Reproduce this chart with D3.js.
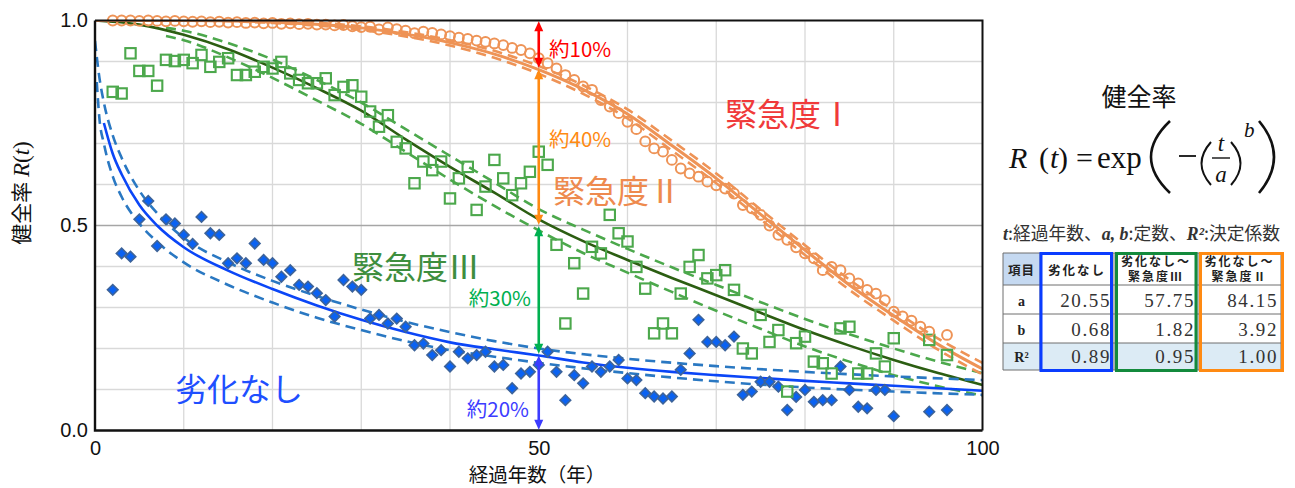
<!DOCTYPE html>
<html>
<head>
<meta charset="utf-8">
<script src="https://cdn.jsdelivr.net/npm/d3@7"></script>
<style>
body { margin: 0; background: #fff; }
svg { display: block; }
</style>
</head>
<body>
<svg id="chart"></svg>
<script>
// ---- data ----
// fitted curves (健全率), sampled from the drawn lines
const orangeFitT = [0, 10, 20, 30, 40, 45, 50, 55, 60, 65, 70, 75, 80, 85, 90, 95, 100];
const orangeFitR = [1.0, 1.0, 0.996, 0.982, 0.946, 0.918, 0.88, 0.832, 0.772, 0.695, 0.615, 0.527, 0.44, 0.355, 0.28, 0.21, 0.15];
const orangeHiR = [1.0, 1.0, 0.998, 0.986, 0.952, 0.926, 0.889, 0.842, 0.783, 0.707, 0.627, 0.539, 0.452, 0.368, 0.293, 0.224, 0.165];
const orangeLoR = [1.0, 1.0, 0.994, 0.977, 0.939, 0.909, 0.87, 0.821, 0.761, 0.683, 0.603, 0.515, 0.428, 0.343, 0.268, 0.197, 0.137];

const greenFitT = [0, 5, 10, 15, 20, 25, 30, 35, 40, 45, 50, 55, 60, 65, 70, 75, 80, 85, 90, 95, 100];
const greenFitR = [1.0, 0.99, 0.965, 0.93, 0.885, 0.835, 0.78, 0.71, 0.643, 0.58, 0.515, 0.462, 0.416, 0.372, 0.33, 0.287, 0.245, 0.207, 0.172, 0.14, 0.111];
const greenBandT = [8, 10, 15, 20, 25, 30, 35, 40, 45, 50, 55, 60, 65, 70, 75, 80, 85, 90, 95, 100];
const greenHiR = [0.982, 0.975, 0.945, 0.905, 0.855, 0.80, 0.735, 0.67, 0.605, 0.54, 0.49, 0.443, 0.398, 0.355, 0.313, 0.272, 0.235, 0.2, 0.168, 0.14];
const greenLoR = [0.962, 0.952, 0.91, 0.86, 0.805, 0.748, 0.68, 0.612, 0.548, 0.488, 0.433, 0.385, 0.338, 0.292, 0.248, 0.205, 0.168, 0.135, 0.108, 0.085];

const blueFitT = [1, 2, 3, 5, 7, 10, 15, 20, 25, 30, 35, 40, 45, 50, 55, 60, 65, 70, 75, 80, 85, 90, 95, 100];
const blueFitR = [0.75, 0.675, 0.625, 0.55, 0.50, 0.447, 0.39, 0.345, 0.305, 0.27, 0.24, 0.215, 0.198, 0.183, 0.166, 0.153, 0.143, 0.135, 0.128, 0.121, 0.115, 0.109, 0.103, 0.097];
const blueHiT = [0, 0.5, 1, 2, 3, 5, 7, 10, 15, 20, 25, 30, 35, 40, 45, 50, 60, 70, 80, 90, 100];
const blueHiR = [0.95, 0.86, 0.80, 0.72, 0.665, 0.585, 0.53, 0.47, 0.41, 0.365, 0.328, 0.295, 0.265, 0.24, 0.218, 0.2, 0.175, 0.157, 0.143, 0.132, 0.123];
const blueLoT = [0.2, 0.5, 1, 2, 3, 5, 7, 10, 15, 20, 25, 30, 35, 40, 45, 50, 60, 70, 80, 90, 100];
const blueLoR = [0.85, 0.76, 0.70, 0.62, 0.57, 0.505, 0.46, 0.41, 0.355, 0.312, 0.275, 0.245, 0.218, 0.196, 0.18, 0.165, 0.14, 0.12, 0.105, 0.095, 0.087];

// observed points
const circleT = [2,3,4,5,6,7,8,9,10,11,12,13,14,15,16,17,18,19,20,21,22,23,24,25,26,27,28,29,30,31,32,33,34,35,36,37,38,39,40,41,42,43,44,45,46,47,48,49,50,51,52,53,54,55,56,57,58,59,60,61,62,63,64,65,66,67,68,69,70,71,72,73,74,75,76,77,78,79,80,81,82,83,84,85,86,87,88,89,90,91,92,93,94,96];
const circleR = [1.0,1.0,1.0,0.999,1.0,0.999,0.998,0.999,0.998,
  0.997,0.998,0.996,0.997,0.995,0.996,0.994,0.995,0.993,0.994,
  0.992,0.993,0.991,0.992,0.99,0.99,0.988,0.989,0.986,0.984,
  0.985,0.978,0.983,0.979,0.975,0.969,0.973,0.97,0.966,0.962,
  0.958,0.955,0.951,0.948,0.944,0.94,0.933,0.928,0.92,0.908,
  0.896,0.883,0.867,0.855,0.839,0.831,0.806,0.79,0.774,0.753,
  0.735,0.705,0.688,0.68,0.66,0.639,0.627,0.619,0.607,0.598,
  0.59,0.578,0.55,0.542,0.526,0.5,0.477,0.465,0.447,0.432,
  0.42,0.391,0.399,0.391,0.371,0.359,0.343,0.334,0.318,0.29,
  0.278,0.268,0.253,0.241,0.233];

const squareT = [2,3,4,5,6,7,8,9,10,11,12,13,14,15,16,17,18,19,20,21,22,23,24,25,26,27,28,29,30,31,32,33,34,35,36,37,38,39,40,41,42,43,44,45,46,47,48,49,50,51,52,53,54,55,56,57,58,59,60,61,62,63,64,65,66,67,68,69,70,71,72,73,74,75,76,77,78,79,80,81,82,83,84,85,86,87,88,89,90,94,96];
const squareR = [0.826,0.822,0.92,0.877,0.877,0.841,0.904,0.901,0.904,
  0.896,0.916,0.887,0.899,0.908,0.867,0.867,0.875,0.887,0.883,
  0.899,0.871,0.855,0.847,0.847,0.859,0.818,0.838,0.842,0.814,
  0.778,0.741,0.769,0.704,0.688,0.603,0.656,0.635,0.656,0.566,
  0.615,0.643,0.538,0.595,0.66,0.615,0.574,0.603,0.631,0.68,
  0.648,0.453,0.261,0.408,0.334,0.448,0.432,0.526,0.481,0.461,
  0.399,0.346,0.237,0.261,0.237,0.334,0.399,0.428,0.371,0.379,
  0.391,0.343,0.2,0.188,0.282,0.216,0.245,0.095,0.213,0.229,
  0.168,0.164,0.139,0.249,0.253,0.139,0.139,0.188,0.156,0.225,
  0.221,0.184];

const diamondT = [2,3,4,5,6,7,8,9,10,11,12,13,14,15,16,17,18,19,20,21,22,23,24,25,26,27,28,29,30,31,32,33,34,35,36,37,38,39,40,41,42,43,44,45,46,47,48,49,50,51,52,53,54,55,56,57,58,59,60,61,62,63,64,65,66,67,68,69,70,71,72,73,74,75,76,77,78,79,80,81,82,83,84,85,86,87,88,89,90,94,96];
const diamondR = [0.343,0.432,0.424,0.515,0.56,0.45,0.515,0.505,0.477,
  0.455,0.521,0.481,0.477,0.408,0.42,0.408,0.456,0.416,0.408,
  0.375,0.391,0.355,0.351,0.335,0.318,0.278,0.367,0.351,0.343,
  0.273,0.282,0.261,0.273,0.253,0.208,0.212,0.184,0.196,0.156,
  0.192,0.176,0.184,0.192,0.156,0.16,0.103,0.139,0.143,0.16,
  0.192,0.143,0.074,0.135,0.115,0.156,0.143,0.156,0.172,0.127,
  0.123,0.091,0.083,0.078,0.083,0.148,0.188,0.27,0.216,0.216,
  0.208,0.229,0.087,0.095,0.119,0.119,0.107,0.05,0.082,0.099,
  0.07,0.074,0.074,0.156,0.099,0.058,0.054,0.099,0.099,0.035,
  0.046,0.05];

// axes
const xTicks = [0, 50, 100];
const yTicks = [0, 0.5, 1.0];
const xGrid = [10, 20, 30, 40, 50, 60, 70, 80, 90];
const yGrid = [0.1, 0.2, 0.3, 0.4, 0.5, 0.6, 0.7, 0.8, 0.9];

// the arrows at t = 50 and their labels
const arrowStops = [1.0, 0.883, 0.5, 0.185, 0.0];
const arrowLabels = ["約10%", "約40%", "約30%", "約20%"];
const arrowColors = ["#ff0000", "#ff8a12", "#00b050", "#3c3cff"];

// parameter table
const tableHead = [["項目"], ["劣化なし"], ["劣化なし～", "緊急度Ⅲ"], ["劣化なし～", "緊急度Ⅱ"]];
const rowNames = ["a", "b", "R²"];
const paramA = [20.55, 57.75, 84.15];
const paramB = [0.68, 1.82, 3.92];
const paramR2 = [0.89, 0.95, 1.00];

// ---- drawing ----
const W = 1295, H = 488;
const jpFont = "'Noto Sans CJK JP', 'Noto Sans', sans-serif";
const numFont = "'Liberation Sans', Arial, sans-serif";
const mathFont = "'Liberation Serif', 'DejaVu Serif', serif";

const colOrange = "#ee9356";
const colGreen = "#4ca84c";
const colGreenDark = "#2c5e12";
const colBlue = "#0b46f7";
const colBlueDash = "#2a78c2";

const svg = d3.select('#chart').attr('width', W).attr('height', H);
svg.append('rect').attr('width', W).attr('height', H).attr('fill', '#fff');

const x = d3.scaleLinear().domain([0, 100]).range([95, 982.5]);
const y = d3.scaleLinear().domain([0, 1]).range([430.5, 20.5]);

// grid
svg.append('g').selectAll('line').data(xGrid).join('line')
  .attr('x1', d => x(d)).attr('x2', d => x(d))
  .attr('y1', y(0)).attr('y2', y(1))
  .attr('stroke', '#d9d9d9').attr('stroke-width', 1.3);
svg.append('g').selectAll('line').data(yGrid).join('line')
  .attr('x1', x(0)).attr('x2', x(100))
  .attr('y1', d => y(d)).attr('y2', d => y(d))
  .attr('stroke', d => d === 0.5 ? '#a6a6a6' : '#d9d9d9')
  .attr('stroke-width', 1.3);

svg.append('clipPath').attr('id', 'plotClip')
  .append('rect').attr('x', x(0)).attr('y', y(1)).attr('width', x(100) - x(0)).attr('height', y(0) - y(1));

const zip = (ts, rs) => ts.map((t, i) => [t, rs[i]]);
const line = d3.line().x(d => x(d[0])).y(d => y(d[1])).curve(d3.curveMonotoneX);

const curves = svg.append('g').attr('clip-path', 'url(#plotClip)');
function drawCurve(pts, color, width, dash) {
  curves.append('path')
    .attr('d', line(pts))
    .attr('fill', 'none')
    .attr('stroke', color)
    .attr('stroke-width', width)
    .attr('stroke-dasharray', dash || null);
}

drawCurve(zip(greenBandT, greenHiR), colGreen, 2.6, '10,6');
drawCurve(zip(greenBandT, greenLoR), colGreen, 2.6, '10,6');
drawCurve(zip(greenFitT, greenFitR), colGreenDark, 2.6);
drawCurve(zip(blueHiT, blueHiR), colBlueDash, 2.6, '10,6');
drawCurve(zip(blueLoT, blueLoR), colBlueDash, 2.6, '10,6');
drawCurve(zip(blueFitT, blueFitR), colBlue, 2.6);
drawCurve(zip(orangeFitT, orangeHiR), colOrange, 2.6, '10,6');
drawCurve(zip(orangeFitT, orangeLoR), colOrange, 2.6, '10,6');
drawCurve(zip(orangeFitT, orangeFitR), colOrange, 3);

// points
svg.append('g').selectAll('path').data(zip(diamondT, diamondR)).join('path')
  .attr('d', d3.symbol(d3.symbolSquare, 56)())
  .attr('transform', d => `translate(${x(d[0])},${y(d[1])}) rotate(45)`)
  .attr('fill', '#0a62f2')
  .attr('stroke', '#3d6399')
  .attr('stroke-width', 1.6);

svg.append('g').selectAll('rect').data(zip(squareT, squareR)).join('rect')
  .attr('x', d => x(d[0]) - 5.2).attr('y', d => y(d[1]) - 5.2)
  .attr('width', 10.4).attr('height', 10.4)
  .attr('fill', 'none')
  .attr('stroke', colGreen)
  .attr('stroke-width', 2.1);

svg.append('g').selectAll('circle').data(zip(circleT, circleR)).join('circle')
  .attr('cx', d => x(d[0])).attr('cy', d => y(d[1]))
  .attr('r', 4.9)
  .attr('fill', 'none')
  .attr('stroke', colOrange)
  .attr('stroke-width', 2);

// frame
const frame = svg.append('g').attr('stroke', '#111').attr('fill', 'none');
frame.append('path').attr('d', `M${x(0)},${y(1)}H${x(100)}V${y(0)}`).attr('stroke-width', 2);
frame.append('path').attr('d', `M${x(0)},${y(1)}V${y(0)}H${x(100)}`).attr('stroke-width', 2.4);

// axes
const yAxis = svg.append('g').attr('transform', `translate(${x(0)},0)`)
  .call(d3.axisLeft(y).tickValues(yTicks).tickFormat(d3.format('.1f')).tickSize(0).tickPadding(7));
yAxis.select('.domain').remove();
yAxis.selectAll('text').attr('font-size', 20).attr('font-family', numFont).attr('fill', '#111');

const xAxis = svg.append('g').attr('transform', `translate(0,${y(0)})`)
  .call(d3.axisBottom(x).tickValues(xTicks).tickFormat(d3.format('d')).tickSize(0).tickPadding(10.5));
xAxis.select('.domain').remove();
xAxis.selectAll('text').attr('font-size', 20).attr('font-family', numFont).attr('fill', '#111');

svg.append('text')
  .attr('x', 537).attr('y', 482)
  .attr('text-anchor', 'middle')
  .attr('font-family', jpFont).attr('font-size', 19.5).attr('fill', '#111')
  .text('経過年数（年）');

const yl = svg.append('text')
  .attr('transform', 'translate(29,193) rotate(-90)')
  .attr('text-anchor', 'middle')
  .attr('font-family', jpFont).attr('font-size', 21).attr('fill', '#111');
yl.append('tspan').text('健全率 ');
yl.append('tspan').attr('font-family', mathFont).attr('font-style', 'italic').attr('font-size', 23).text('R');
yl.append('tspan').attr('font-family', mathFont).attr('font-size', 23).text('(');
yl.append('tspan').attr('font-family', mathFont).attr('font-style', 'italic').attr('font-size', 23).text('t');
yl.append('tspan').attr('font-family', mathFont).attr('font-size', 23).text(')');

// arrows at t = 50
const ax = x(50);
const arrows = svg.append('g');
function drawArrow(r1, r2, color) {
  const y1 = y(r1) + 0.8, y2 = y(r2) - 0.8;
  arrows.append('line').attr('x1', ax).attr('x2', ax)
    .attr('y1', y1 + 8).attr('y2', y2 - 8)
    .attr('stroke', color).attr('stroke-width', 2.6);
  arrows.append('path')
    .attr('d', `M${ax},${y1}L${ax - 4.5},${y1 + 10}L${ax + 4.5},${y1 + 10}Z`)
    .attr('fill', color);
  arrows.append('path')
    .attr('d', `M${ax},${y2}L${ax - 4.5},${y2 - 10}L${ax + 4.5},${y2 - 10}Z`)
    .attr('fill', color);
}
arrowColors.forEach((c, i) => drawArrow(arrowStops[i], arrowStops[i + 1], c));

const labelPos = [
  { x: 549, y: 57, anchor: 'start' },
  { x: 549, y: 147, anchor: 'start' },
  { x: 531, y: 306, anchor: 'end' },
  { x: 529, y: 417, anchor: 'end' }
];
svg.append('g').selectAll('text').data(arrowLabels).join('text')
  .attr('x', (d, i) => labelPos[i].x).attr('y', (d, i) => labelPos[i].y)
  .attr('text-anchor', (d, i) => labelPos[i].anchor)
  .attr('font-family', jpFont).attr('font-size', 20.5)
  .attr('fill', (d, i) => arrowColors[i])
  .text(d => d);

// category labels
const catLabels = [
  { text: '緊急度Ⅰ', x: 725, y: 126, color: '#f03a3a' },
  { text: '緊急度Ⅱ', x: 553, y: 203, color: '#ee8a4e' },
  { text: '緊急度Ⅲ', x: 352, y: 279, color: '#3e8e3e' },
  { text: '劣化なし', x: 175, y: 401, color: '#1f4fff' }
];
svg.append('g').selectAll('text').data(catLabels).join('text')
  .attr('x', d => d.x).attr('y', d => d.y)
  .attr('font-family', jpFont).attr('font-size', 32)
  .attr('fill', d => d.color)
  .text(d => d.text);

// ---- formula ----
const fm = svg.append('g').attr('font-family', mathFont).attr('fill', '#111');
fm.append('text').attr('x', 1139).attr('y', 106).attr('text-anchor', 'middle')
  .attr('font-family', jpFont).attr('font-size', 25).text('健全率');
fm.append('text').attr('x', 1009).attr('y', 168).attr('font-size', 30).attr('font-style', 'italic').text('R');
fm.append('text').attr('x', 1039).attr('y', 168).attr('font-size', 30).text('(');
fm.append('text').attr('x', 1050).attr('y', 168).attr('font-size', 30).attr('font-style', 'italic').text('t');
fm.append('text').attr('x', 1058).attr('y', 168).attr('font-size', 30).text(')');
fm.append('text').attr('x', 1076).attr('y', 168).attr('font-size', 30).text('=');
fm.append('text').attr('x', 1097).attr('y', 168).attr('font-size', 31).text('exp');
const parenPath = (xa, xb, y1, y2) => `M${xa},${y1}Q${xb},${(y1 + y2) / 2} ${xa},${y2}`;
fm.append('path').attr('d', parenPath(1170, 1132, 121, 193)).attr('fill', 'none').attr('stroke', '#111').attr('stroke-width', 2.6);
fm.append('path').attr('d', parenPath(1259, 1289, 121, 193)).attr('fill', 'none').attr('stroke', '#111').attr('stroke-width', 2.6);
fm.append('line').attr('x1', 1179).attr('x2', 1196).attr('y1', 156).attr('y2', 156).attr('stroke', '#111').attr('stroke-width', 1.8);
fm.append('path').attr('d', parenPath(1211, 1192, 142, 185)).attr('fill', 'none').attr('stroke', '#111').attr('stroke-width', 2);
fm.append('path').attr('d', parenPath(1231, 1250, 142, 185)).attr('fill', 'none').attr('stroke', '#111').attr('stroke-width', 2);
fm.append('text').attr('x', 1221).attr('y', 151).attr('text-anchor', 'middle').attr('font-size', 23).attr('font-style', 'italic').text('t');
fm.append('line').attr('x1', 1212).attr('x2', 1230).attr('y1', 158).attr('y2', 158).attr('stroke', '#111').attr('stroke-width', 1.4);
fm.append('text').attr('x', 1221).attr('y', 182).attr('text-anchor', 'middle').attr('font-size', 23).attr('font-style', 'italic').text('a');
fm.append('text').attr('x', 1244).attr('y', 137).attr('font-size', 21).attr('font-style', 'italic').text('b');

// note line
const note = svg.append('text').attr('x', 1003).attr('y', 240)
  .attr('font-family', jpFont).attr('font-size', 17.8).attr('fill', '#333');
note.append('tspan').attr('font-family', mathFont).attr('font-style', 'italic').attr('font-weight', 'bold').text('t');
note.append('tspan').text(':経過年数、');
note.append('tspan').attr('font-family', mathFont).attr('font-style', 'italic').attr('font-weight', 'bold').text('a, b');
note.append('tspan').text(':定数、');
note.append('tspan').attr('font-family', mathFont).attr('font-style', 'italic').attr('font-weight', 'bold').text('R²');
note.append('tspan').text(':決定係数');

// ---- table ----
const colX = [1003, 1040, 1114, 1198, 1281];
const rowY = [253, 285, 314, 343, 370];
const tbl = svg.append('g');
const rowVals = [paramA, paramB, paramR2];

// backgrounds
tbl.append('rect').attr('x', colX[0]).attr('y', rowY[0]).attr('width', colX[1] - colX[0]).attr('height', rowY[1] - rowY[0]).attr('fill', '#c5d9f1');
tbl.append('rect').attr('x', colX[0]).attr('y', rowY[3]).attr('width', colX[4] - colX[0]).attr('height', rowY[4] - rowY[3]).attr('fill', '#dcebf5');

// cell lines
tbl.selectAll('line.h').data(rowY).join('line').attr('class', 'h')
  .attr('x1', colX[0]).attr('x2', colX[4]).attr('y1', d => d).attr('y2', d => d)
  .attr('stroke', '#6e6e6e').attr('stroke-width', 1);
tbl.selectAll('line.v').data(colX).join('line').attr('class', 'v')
  .attr('x1', d => d).attr('x2', d => d).attr('y1', rowY[0]).attr('y2', rowY[4])
  .attr('stroke', '#6e6e6e').attr('stroke-width', 1);

// header text
tableHead.forEach((lines, i) => {
  const cx = (colX[i] + colX[i + 1]) / 2;
  lines.forEach((s, j) => {
    tbl.append('text')
      .attr('x', cx).attr('y', lines.length === 1 ? 275 : 266 + j * 15)
      .attr('text-anchor', 'middle')
      .attr('font-family', jpFont).attr('font-weight', 'bold')
      .attr('font-size', lines.length === 1 ? 12.5 : 12)
      .attr('letter-spacing', i === 0 ? 1 : 2)
      .attr('fill', '#222')
      .text(s);
  });
});

// row labels and values
rowNames.forEach((name, r) => {
  const base = rowY[r + 2] - 7;
  tbl.append('text').attr('x', (colX[0] + colX[1]) / 2).attr('y', base - 1)
    .attr('text-anchor', 'middle').attr('font-family', mathFont).attr('font-weight', 'bold')
    .attr('font-size', 14).attr('fill', '#222').text(name);
  rowVals[r].forEach((v, c) => {
    tbl.append('text').attr('x', colX[c + 2] - 3).attr('y', base)
      .attr('text-anchor', 'end').attr('font-family', mathFont)
      .attr('font-size', 19).attr('letter-spacing', 1.6).attr('fill', '#333')
      .text(d3.format('.2f')(v));
  });
});

// coloured frames round the three columns
const boxes = [
  { x1: 1041, x2: 1111.5, color: '#0a3cff' },
  { x1: 1116.5, x2: 1196, color: '#138a3c' },
  { x1: 1200.5, x2: 1282.5, color: '#ff8a12' }
];
tbl.selectAll('rect.box').data(boxes).join('rect').attr('class', 'box')
  .attr('x', d => d.x1).attr('y', 253.5)
  .attr('width', d => d.x2 - d.x1).attr('height', 117)
  .attr('fill', 'none').attr('stroke', d => d.color).attr('stroke-width', 3);
</script>
</body>
</html>
